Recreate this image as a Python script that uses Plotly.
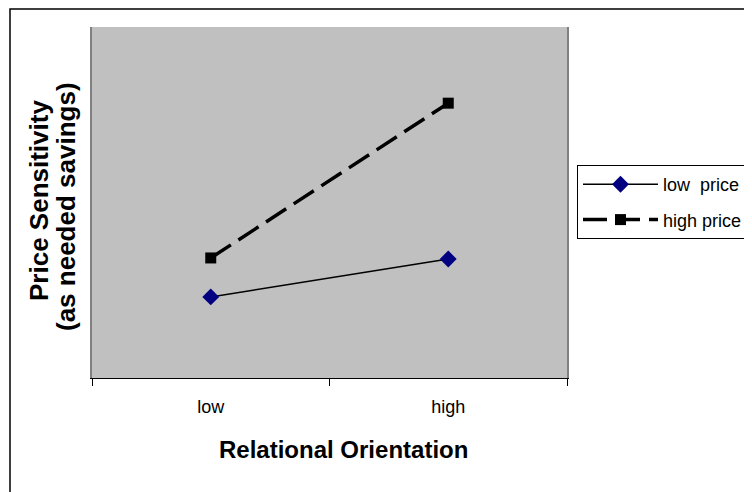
import plotly.graph_objects as go

categories = ["low", "high"]
low_price = [2.31, 3.39]
high_price = [3.42, 7.83]

W, H = 752, 492
OFF = 8  # page body margin
L, R, T, B = 84, W - 559, 19, H - 370
pw, ph = W - L - R, H - T - B

def px_x(p):
    return (p - OFF - L) / pw

def px_y(p):
    return (H - B - (p - OFF)) / ph

fig = go.Figure()
fig.add_trace(go.Scatter(
    x=categories, y=low_price, name="low  price", mode="lines+markers",
    legendgroup="a",
    line=dict(color="black", width=1.5),
    marker=dict(symbol="diamond", size=13, color="#000080"),
))
fig.add_trace(go.Scatter(
    x=categories, y=high_price, name="high price", mode="lines+markers",
    legendgroup="b",
    line=dict(color="black", width=3.5, dash="24px,9px"),
    marker=dict(symbol="square", size=11, color="black"),
))

fig.add_shape(type="rect", xref="paper", yref="paper",
              x0=px_x(10), x1=px_x(900), y0=px_y(700), y1=px_y(9),
              line=dict(color="black", width=1.5), fillcolor="rgba(0,0,0,0)",
              layer="below")

title_font = dict(family="Liberation Sans, Arial, sans-serif", color="black")
fig.add_annotation(xref="paper", yref="paper", x=px_x(39), y=px_y(201),
                   text="<b>Price Sensitivity</b>", textangle=-90, showarrow=False,
                   font=dict(size=26, **title_font), xanchor="center", yanchor="middle")
fig.add_annotation(xref="paper", yref="paper", x=px_x(66), y=px_y(207),
                   text="<b>(as needed savings)</b>", textangle=-90, showarrow=False,
                   font=dict(size=26, **title_font), xanchor="center", yanchor="middle")
fig.add_annotation(xref="paper", yref="paper", x=px_x(343), y=px_y(449),
                   text="<b>Relational Orientation</b>", showarrow=False,
                   font=dict(size=24, **title_font), xanchor="center", yanchor="middle")

fig.update_layout(
    width=W, height=H,
    margin=dict(l=L, r=R, t=T, b=B),
    paper_bgcolor="white", plot_bgcolor="#C0C0C0",
    font=dict(family="Liberation Sans, Arial, sans-serif", color="black", size=18),
    showlegend=True,
    legend=dict(x=px_x(577), y=px_y(165), xanchor="left", yanchor="top",
                bordercolor="black", borderwidth=1, bgcolor="white",
                font=dict(size=18), tracegroupgap=9, itemwidth=75),
    xaxis=dict(type="category", range=[-0.5, 1.5], tickson="boundaries",
               ticks="outside", ticklen=7, tickcolor="black",
               showline=True, linecolor="black", linewidth=1, mirror=False,
               showgrid=False, zeroline=False, ticklabelstandoff=12,
               tickfont=dict(size=18)),
    yaxis=dict(range=[0, 10], showticklabels=False, ticks="", showgrid=False,
               zeroline=False, showline=True, linecolor="#808080", linewidth=2, mirror=True),
)

fig.write_html("out.html")
